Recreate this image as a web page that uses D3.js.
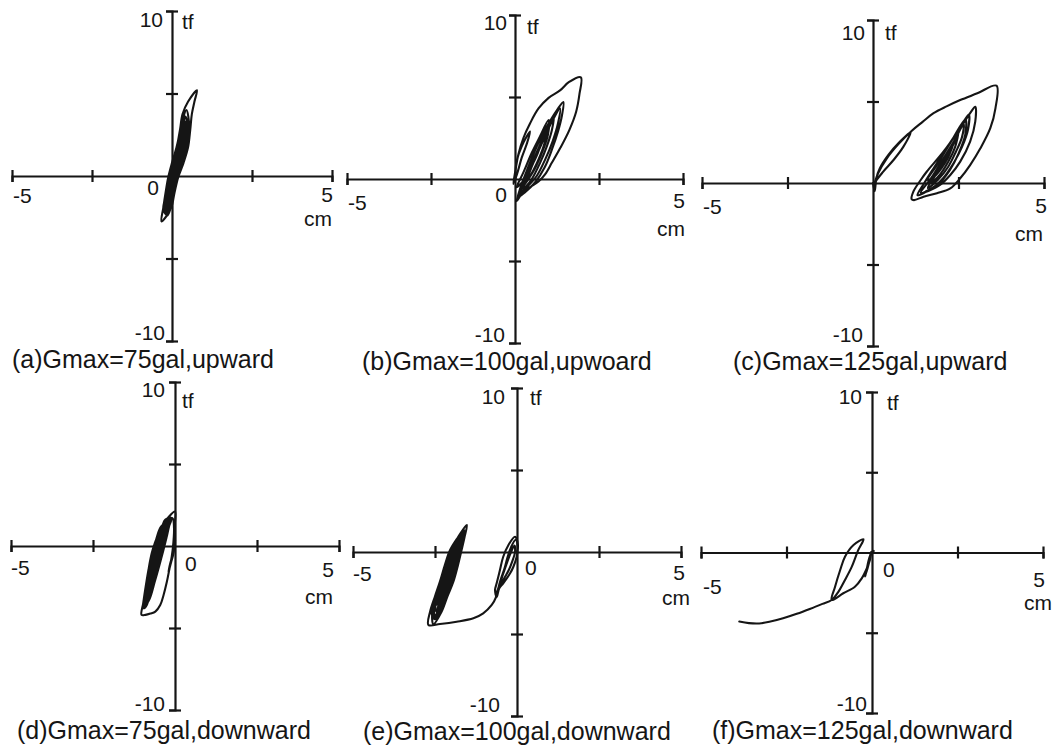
<!DOCTYPE html>
<html><head><meta charset="utf-8">
<script src="https://cdn.jsdelivr.net/npm/d3@7"></script>
<style>
html,body{margin:0;padding:0;background:#fff;}
svg text{font-family:"Liberation Sans",Arial,Helvetica,sans-serif;fill:#151515;}
</style></head><body>
<svg id="chart" width="1058" height="749"></svg>
<script>
// ---------------- data ----------------
const xDomain = [-5, 5];
const yDomain = [-10, 10];
const xTickValues = [-5, -2.5, 2.5, 5];
const yTickValues = [-10, -5, 5, 10];
const xTickLabels = {left: "-5", zero: "0", right: "5"};
const yTickLabels = {top: "10", bottom: "-10"};
const xUnit = "cm";
const yUnit = "tf";
const captions = [
  "(a)Gmax=75gal,upward",
  "(b)Gmax=100gal,upwoard",
  "(c)Gmax=125gal,upward",
  "(d)Gmax=75gal,downward",
  "(e)Gmax=100gal,downward",
  "(f)Gmax=125gal,downward"
];

// displacement (cm), load (tf)
const traceA = [
  [0,0],[0.05,0.5],[0.15,1.7],[0.25,2.8],[0.33,3.75],[0.5,4.5],[0.78,5.2],[0.7,4.5],[0.62,3.75],[0.57,2.8],
  [0.5,1.72],[0.36,0.8],[0.19,-0.1],[0.08,-1.0],[-0.02,-1.9],[-0.2,-2.5],[-0.33,-2.75],[-0.27,-1.9],[-0.2,-1.0],
  [-0.12,-0.1],[0.0,0.8],[0.14,1.72],[0.24,2.6],[0.32,3.3],[0.45,4.0],
  [0.54,3.0],[0.49,2.2],[0.4,1.4],[0.25,0.5],[0.1,-0.4],[0.0,-1.3],[-0.08,-2.0],[-0.2,-2.3],
  [-0.24,-2.0],[-0.18,-1.3],[-0.11,-0.4],[0.01,0.5],[0.14,1.4],[0.25,2.2],[0.33,3.0],[0.42,3.6],
  [0.49,3.0],[0.44,2.2],[0.34,1.4],[0.2,0.5],[0.05,-0.4],[-0.04,-1.3],[-0.11,-2.0],[-0.18,-2.2],
  [-0.21,-2.0],[-0.14,-1.3],[-0.06,-0.4],[0.06,0.5],[0.2,1.4],[0.3,2.2],[0.38,3.0],[0.44,3.3],
  [0.55,2.8],[0.52,2.2],[0.43,1.4],[0.28,0.5],[0.13,-0.4],[0.03,-1.3],[-0.05,-2.0],[-0.15,-2.4],
  [-0.27,-2.0],[-0.21,-1.3],[-0.14,-0.4],[-0.02,0.5],[0.11,1.4],[0.22,2.2],[0.3,3.0],[0.36,3.4],
  [0.45,3.0],[0.39,2.2],[0.29,1.4],[0.15,0.5],[0.01,-0.4],[-0.08,-1.3],[-0.15,-2.0],
  [-0.18,-2.0],[-0.12,-1.3],[-0.03,-0.4],[0.1,0.5],[0.23,1.4],[0.34,2.2],[0.41,3.0],[0.46,3.2],
  [0.52,2.9],[0.47,2.2],[0.38,1.4],[0.23,0.5],[0.08,-0.4],[-0.01,-1.3],[-0.09,-1.9],
  [-0.19,-1.6],[-0.19,-1.3],[-0.12,-0.4],[0.0,0.5],[0.13,1.4],[0.23,2.2],[0.3,2.8],
  [0.42,2.2],[0.32,1.4],[0.18,0.5],[0.04,-0.4],[-0.05,-1.3],[-0.08,-1.5],
  [-0.1,-1.3],[-0.02,-0.4],[0.11,0.5],[0.25,1.4],[0.35,2.2],[0.38,2.5],
  [0.41,1.4],[0.27,0.5],[0.11,-0.4],[0.02,-1.0],[0,0]
];
const traceB = [
  [0,0],[0.05,1.1],[0.2,2.0],[0.45,2.9],[0.36,2.2],[0.2,1.3],[0.06,0.3],[-0.05,-0.3],
  [0.02,0.6],[0.1,1.5],[0.25,2.5],[0.45,3.4],[0.7,4.3],[1.0,4.95],[1.34,5.4],[1.6,5.9],[1.96,6.2],
  [1.92,5.2],[1.82,4.1],[1.62,3.0],[1.35,1.9],[1.1,1.0],[0.9,0.3],[0.7,-0.15],[0.45,-0.5],[0.2,-0.9],[0.05,-1.35],
  [0.15,-0.6],[0.35,0.5],[0.65,2.0],[0.95,3.2],[1.25,4.2],[1.44,4.7],
  [1.4,3.9],[1.28,2.9],[1.1,1.8],[0.88,0.7],[0.6,-0.2],[0.3,-0.8],[0.1,-1.1],
  [0.3,-0.2],[0.55,1.0],[0.85,2.4],[1.1,3.5],[1.34,4.3],
  [1.28,3.4],[1.12,2.3],[0.9,1.2],[0.65,0.2],[0.35,-0.5],[0.12,-0.9],
  [0.35,0.2],[0.62,1.5],[0.9,2.8],[1.15,3.8],
  [1.1,3.0],[0.95,2.0],[0.75,1.0],[0.5,0.0],[0.25,-0.6],
  [0.45,0.5],[0.72,1.9],[0.95,3.0],
  [0.88,2.2],[0.7,1.2],[0.45,0.2],[0.2,-0.4],
  [0.4,0.7],[0.65,2.0],[0.8,2.6],
  [0.7,1.7],[0.5,0.8],[0.25,-0.1],[0.05,-0.5],
  [0.25,0.4],[0.5,1.6],[0.72,2.5],[1.0,3.6],
  [0.98,2.7],[0.82,1.7],[0.58,0.6],[0.3,-0.3]
];
const traceC = [
  [0,0],[0.05,-0.5],[0.1,0.3],[0.2,0.9],[0.45,1.72],[0.79,2.54],[1.1,3.12],
  [0.89,2.23],[0.6,1.41],[0.3,0.7],[0.08,0.1],[0.02,-0.2],
  [0.15,0.6],[0.4,1.5],[0.75,2.4],[1.12,3.18],
  [1.45,3.75],[1.77,4.28],[2.15,4.7],[2.55,5.09],[3.05,5.5],[3.61,5.97],
  [3.58,4.58],[3.43,3.36],[3.14,2.13],[2.84,1.1],[2.55,0.29],[2.26,-0.33],[1.87,-0.63],[1.48,-0.84],[1.2,-1.05],[1.13,-1.0],
  [1.18,-0.53],[1.4,0.2],[1.57,0.69],[2.06,1.92],[2.55,3.36],[2.84,4.28],[2.99,4.68],
  [2.99,3.76],[2.84,2.54],[2.55,1.31],[2.26,0.49],[1.96,-0.12],[1.57,-0.53],[1.3,-0.75],
  [1.5,0.0],[1.8,1.0],[2.2,2.3],[2.55,3.4],[2.8,4.2],
  [2.78,3.3],[2.6,2.2],[2.35,1.2],[2.05,0.3],[1.7,-0.35],[1.4,-0.6],
  [1.7,0.3],[2.0,1.3],[2.35,2.5],[2.65,3.6],
  [2.6,2.8],[2.42,1.9],[2.2,1.0],[1.9,0.2],[1.6,-0.3],
  [1.85,0.6],[2.15,1.6],[2.45,2.8],[2.5,3.1],
  [2.4,2.2],[2.2,1.3],[1.95,0.5],[1.7,0.0],
  [1.95,0.9],[2.25,2.0],[2.35,2.4],
  [2.2,1.6],[2.0,0.9],[1.8,0.4],
  [1.6,0.2],[1.9,1.2],[2.3,2.6],[2.7,3.9],
  [2.7,3.0],[2.5,1.8],[2.25,0.8],[1.9,-0.1],[1.55,-0.5]
];
const traceD = [
  [0,0],[-0.08,-0.6],[-0.15,-1.1],[-0.2,-1.6],[-0.12,-1.0],[-0.04,-0.4],[0,0.3],
  [-0.02,1.0],[0,2.1],
  [-0.2,1.75],[-0.36,1.3],[-0.51,0.7],[-0.61,0.2],[-0.71,-0.45],[-0.81,-1.46],[-0.91,-2.68],[-0.97,-3.5],[-1.02,-4.2],
  [-0.9,-4.2],[-0.75,-4.12],[-0.6,-4.0],[-0.45,-3.6],[-0.35,-3.0],[-0.25,-2.2],[-0.17,-1.4],[-0.1,-0.65],[-0.05,0.2],[-0.03,1.1],[-0.08,1.7],
  [-0.3,1.6],[-0.39,1.2],[-0.52,0.5],[-0.62,-0.3],[-0.72,-1.2],[-0.82,-2.2],[-0.91,-3.2],[-0.95,-3.8],
  [-0.86,-3.6],[-0.8,-3.2],[-0.67,-2.2],[-0.54,-1.2],[-0.42,-0.3],[-0.33,0.5],[-0.23,1.2],[-0.15,1.7],
  [-0.34,1.2],[-0.46,0.5],[-0.55,-0.3],[-0.66,-1.2],[-0.76,-2.2],[-0.87,-3.2],[-0.9,-3.6],
  [-0.77,-3.2],[-0.62,-2.2],[-0.48,-1.2],[-0.36,-0.3],[-0.26,0.5],[-0.18,1.2],[-0.12,1.6],
  [-0.42,1.2],[-0.56,0.5],[-0.65,-0.3],[-0.75,-1.2],[-0.85,-2.2],[-0.93,-3.2],[-0.97,-3.7],
  [-0.84,-3.2],[-0.71,-2.2],[-0.59,-1.2],[-0.49,-0.3],[-0.39,0.5],[-0.28,1.2],[-0.2,1.5],
  [-0.31,1.2],[-0.43,0.5],[-0.52,-0.3],[-0.63,-1.2],[-0.74,-2.2],[-0.85,-3.2],
  [-0.79,-3.2],[-0.65,-2.2],[-0.51,-1.2],[-0.39,-0.3],[-0.3,0.5],[-0.2,1.2],
  [-0.36,1.2],[-0.49,0.5],[-0.58,-0.3],[-0.69,-1.2],[-0.79,-2.2],[-0.88,-3.0],
  [-0.82,-3.0],[-0.69,-2.2],[-0.57,-1.2],[-0.45,-0.3],[-0.36,0.5],[-0.25,1.2]
];
const traceE = [
  [0,0],[0.03,0.4],[-0.06,0.93],[-0.26,0.43],[-0.42,-0.29],[-0.52,-1.1],[-0.62,-1.91],[-0.67,-2.32],[-0.62,-2.75],
  [-0.54,-2.21],[-0.42,-1.91],[-0.21,-1.3],[-0.11,-0.9],[-0.01,-0.29],[0.02,0.3],[-0.04,0.75],
  [-0.18,0.3],[-0.3,-0.4],[-0.38,-1.0],[-0.5,-1.7],[-0.58,-2.3],[-0.5,-2.0],[-0.36,-1.5],[-0.25,-1.1],[-0.15,-0.6],[-0.06,0.0],[-0.08,0.4],
  [-0.2,-0.1],[-0.33,-0.8],[-0.45,-1.5],[-0.55,-2.1],[-0.62,-2.5],[-0.65,-2.8],
  [-0.77,-3.23],[-1.03,-3.74],[-1.33,-4.04],[-1.84,-4.25],[-2.35,-4.39],[-2.7,-4.45],
  [-2.65,-3.64],[-2.5,-2.7],[-2.35,-1.81],[-2.2,-0.8],[-2.04,0.12],[-1.8,0.9],[-1.53,1.65],
  [-1.6,0.9],[-1.69,0.12],[-1.8,-0.8],[-1.94,-1.81],[-2.12,-2.7],[-2.3,-3.64],[-2.55,-4.4],
  [-2.58,-3.64],[-2.42,-2.7],[-2.27,-1.81],[-2.12,-0.8],[-1.97,0.12],[-1.73,1.0],[-1.62,1.35],
  [-1.62,1.0],[-1.74,0.12],[-1.86,-0.8],[-2.0,-1.81],[-2.18,-2.7],[-2.36,-3.64],[-2.48,-4.1],
  [-2.53,-3.64],[-2.37,-2.7],[-2.21,-1.81],[-2.06,-0.8],[-1.92,0.12],[-1.71,1.0],[-1.65,1.2],
  [-1.81,0.12],[-1.94,-0.8],[-2.08,-1.81],[-2.25,-2.7],[-2.43,-3.64],[-2.52,-4.1],
  [-2.61,-3.64],[-2.46,-2.7],[-2.31,-1.81],[-2.16,-0.8],[-2.0,0.12],[-1.75,1.0],[-1.68,1.2],
  [-1.78,0.12],[-1.9,-0.8],[-2.04,-1.81],[-2.22,-2.7],[-2.39,-3.64],[-2.45,-3.9],
  [-2.33,-2.7],[-2.17,-1.81],[-2.02,-0.8],[-1.88,0.12],[-1.72,0.9],
  [-1.71,0.12],[-1.82,-0.8],[-1.96,-1.81],[-2.14,-2.7],[-2.32,-3.64],[-2.42,-4.0],
  [-2.56,-3.64],[-2.41,-2.7],[-2.25,-1.81],[-2.1,-0.8],[-1.95,0.12],[-1.8,0.8],
  [-1.85,0.12],[-1.98,-0.8],[-2.12,-1.81],[-2.29,-2.7],[-2.46,-3.64],
  [-2.48,-2.7],[-2.33,-1.81],[-2.18,-0.8],[-2.02,0.12],[-1.9,0.6],
  [-1.9,0.12],[-2.04,-0.8],[-2.19,-1.81],[-2.35,-2.7],[-2.45,-3.2]
];
const traceF = [
  [0.05,0.1],[-0.05,-0.1],[0,0],[-0.06,-0.3],[-0.12,-0.8],[-0.18,-1.3],[-0.2,-1.5],[-0.14,-1.0],[-0.08,-0.5],[-0.04,-0.1],
  [-0.1,-0.5],[-0.15,-1.0],[-0.18,-1.35],[-0.12,-0.9],[-0.06,-0.4],[-0.02,0.05],
  [-0.06,-0.47],[-0.15,-0.98],[-0.3,-1.61],[-0.5,-2.13],[-0.84,-2.54],[-1.18,-2.96],
  [-1.08,-2.13],[-0.93,-1.09],[-0.79,-0.26],[-0.54,0.47],[-0.25,0.82],
  [-0.4,0.16],[-0.59,-0.88],[-0.79,-1.71],[-0.98,-2.44],[-1.18,-2.96],
  [-1.45,-3.2],[-1.8,-3.5],[-2.2,-3.82],[-2.6,-4.1],[-3.0,-4.32],[-3.3,-4.42],[-3.6,-4.4],[-3.88,-4.3]
];
const traces = [traceA, traceB, traceC, traceD, traceE, traceF];
const showZeroLabel = [true, true, false, true, true, true];

// ---------------- layout (pixel placement) ----------------
const layout = [
  {xr:[12,332],  yr:[341,11],  ten:[-9,9],  tf:[10,11], m5:[1,20], zero:[-13,12,"end"],  p5:[1,19], cm:[0,45], m10:[-7,-8],  cap:[12,368]},
  {xr:[347,683], yr:[343,15],  ten:[-8,8],  tf:[12,12], m5:[1,24], zero:[-8,16,"end"],   p5:[2,22], cm:[2,52], m10:[-10,-8], cap:[362,370]},
  {xr:[702,1044],yr:[346,20],  ten:[-8,13], tf:[12,13], m5:[1,24], zero:null,            p5:[3,23], cm:[-1,53],m10:[-10,-11],cap:[733,370]},
  {xr:[11,339],  yr:[710,382], ten:[-10,8], tf:[7,19],  m5:[0,22], zero:[10,18,"start"], p5:[-5,24],cm:[-6,53],m10:[-10,-6], cap:[17,739]},
  {xr:[353,681], yr:[716,388], ten:[-12,9], tf:[13,10], m5:[0,22], zero:[8,16,"start"],  p5:[4,21], cm:[9,48], m10:[-17,-11],cap:[363,740]},
  {xr:[701,1043],yr:[713,392], ten:[-10,5], tf:[15,11], m5:[2,34], zero:[11,17,"start"], p5:[2,27], cm:[9,52], m10:[-5,-9],  cap:[712,739]}
];

const ink = "#151515";
const labelSize = 21, capSize = 25;
const svg = d3.select("#chart");
svg.append("rect").attr("width",1058).attr("height",749).attr("fill","#fff");

traces.forEach((trace, i) => {
  const L = layout[i];
  const x = d3.scaleLinear().domain(xDomain).range(L.xr);
  const y = d3.scaleLinear().domain(yDomain).range(L.yr);
  const g = svg.append("g");
  const x0 = x(0), y0 = y(0);

  // x axis
  const gx = g.append("g").attr("transform", `translate(0,${y0})`)
    .call(d3.axisBottom(x).tickValues(xTickValues).tickSizeOuter(0).tickSize(6).tickFormat(""));
  gx.selectAll(".tick line").attr("y1",-6).attr("y2",6);
  // y axis
  const gy = g.append("g").attr("transform", `translate(${x0},0)`)
    .call(d3.axisLeft(y).tickValues(yTickValues).tickSizeOuter(0).tickSize(6).tickFormat(""));
  gy.selectAll(".tick line").attr("x1",-6).attr("x2",6);
  g.selectAll(".tick text").remove();
  g.selectAll(".domain, .tick line").attr("stroke", ink).attr("stroke-width", 2.2);

  // curve
  const line = d3.line().x(d => x(d[0])).y(d => y(d[1])).curve(d3.curveCatmullRom.alpha(0.5));
  g.append("path").datum(trace).attr("d", line)
    .attr("fill","none").attr("stroke", ink).attr("stroke-width", 2.1)
    .attr("stroke-linejoin","round").attr("stroke-linecap","round");

  // labels
  const txt = (s, px, py, anchor, size) => g.append("text").attr("x",px).attr("y",py)
    .attr("text-anchor",anchor).attr("font-size",size).text(s);
  const dig = labelSize*0.35;
  txt(yTickLabels.top, x0 + L.ten[0], y(10) + L.ten[1] + dig, "end", labelSize);
  txt(yUnit, x0 + L.tf[0], y(10) + L.tf[1] + dig, "start", labelSize);
  txt(xTickLabels.left, x(-5) + L.m5[0], y0 + L.m5[1] + dig, "start", labelSize);
  if (showZeroLabel[i] && L.zero) txt(xTickLabels.zero, x0 + L.zero[0], y0 + L.zero[1] + dig, L.zero[2], labelSize);
  txt(xTickLabels.right, x(5) + L.p5[0], y0 + L.p5[1] + dig, "end", labelSize);
  txt(xUnit, x(5) + L.cm[0], y0 + L.cm[1] + labelSize*0.26, "end", labelSize);
  txt(yTickLabels.bottom, x0 + L.m10[0], y(-10) + L.m10[1] + dig, "end", labelSize);
  txt(captions[i], L.cap[0], L.cap[1], "start", capSize);
});
</script>
</body></html>
